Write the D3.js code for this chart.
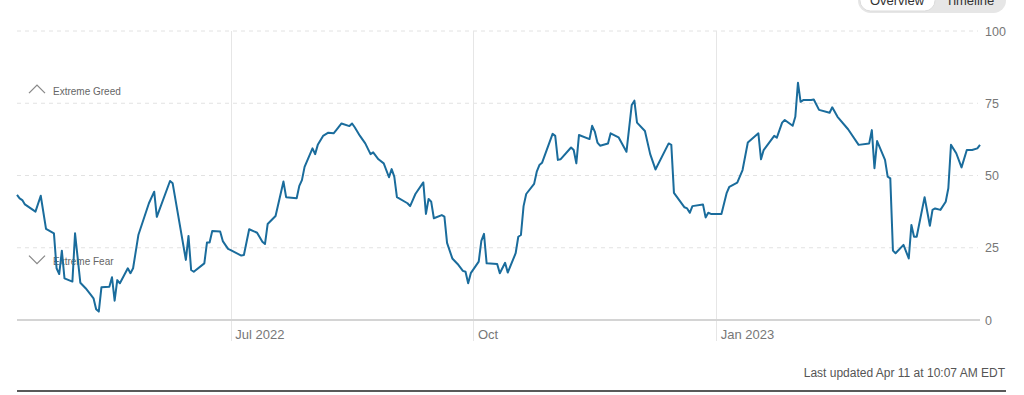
<!DOCTYPE html>
<html lang="en">
<head>
    <meta charset="UTF-8">
    <title>Fear &amp; Greed Index Timeline</title>
    <script src="https://d3js.org/d3.v7.min.js"></script>
    <style>
        body {
            margin: 0;
            background: #fff;
            font-family: "Liberation Sans", Arial, sans-serif;
        }
        .grid-h {
            stroke: #e2e2e2;
            stroke-dasharray: 4,4;
        }
        .grid-v {
            stroke: #e6e6e6;
        }
        .tick-label {
            font-size: 13px;
            fill: #777;
        }
        .zone-label {
            font-size: 10px;
            fill: #666;
        }
    </style>
</head>
<body>
    <div id="chart"></div>
    <script>
        // Fear & Greed index, one year
        const dates = [
            "2022-04-11","2022-04-12","2022-04-13","2022-04-14","2022-04-18","2022-04-20","2022-04-22","2022-04-25","2022-04-26","2022-04-27",
            "2022-04-28","2022-04-29","2022-05-02","2022-05-03","2022-05-05","2022-05-07","2022-05-09","2022-05-10","2022-05-11","2022-05-12",
            "2022-05-13","2022-05-16","2022-05-17","2022-05-18","2022-05-19","2022-05-20","2022-05-23","2022-05-24","2022-05-25","2022-05-27",
            "2022-05-31","2022-06-02","2022-06-03","2022-06-08","2022-06-09","2022-06-14","2022-06-15","2022-06-16","2022-06-17","2022-06-21",
            "2022-06-22","2022-06-23","2022-06-24","2022-06-27","2022-06-28","2022-06-30","2022-07-01","2022-07-05","2022-07-06","2022-07-08",
            "2022-07-11","2022-07-13","2022-07-14","2022-07-15","2022-07-18","2022-07-21","2022-07-22","2022-07-26","2022-07-27","2022-07-28",
            "2022-07-29","2022-08-01","2022-08-02","2022-08-03","2022-08-05","2022-08-07","2022-08-09","2022-08-10","2022-08-12","2022-08-15",
            "2022-08-16","2022-08-17","2022-08-19","2022-08-21","2022-08-23","2022-08-24","2022-08-26","2022-08-28","2022-08-30","2022-08-31",
            "2022-09-01","2022-09-02","2022-09-06","2022-09-07","2022-09-08","2022-09-09","2022-09-12","2022-09-13","2022-09-14","2022-09-15",
            "2022-09-16","2022-09-19","2022-09-20","2022-09-21","2022-09-23","2022-09-25","2022-09-27","2022-09-28","2022-09-29","2022-09-30",
            "2022-10-03","2022-10-04","2022-10-05","2022-10-06","2022-10-10","2022-10-11","2022-10-13","2022-10-14","2022-10-17","2022-10-18",
            "2022-10-19","2022-10-20","2022-10-21","2022-10-24","2022-10-25","2022-10-26","2022-10-27","2022-10-31","2022-11-01","2022-11-02",
            "2022-11-03","2022-11-07","2022-11-08","2022-11-09","2022-11-10","2022-11-14","2022-11-15","2022-11-16","2022-11-17","2022-11-18",
            "2022-11-21","2022-11-22","2022-11-25","2022-11-28","2022-11-30","2022-12-01","2022-12-02","2022-12-05","2022-12-07","2022-12-09",
            "2022-12-14","2022-12-15","2022-12-16","2022-12-20","2022-12-21","2022-12-22","2022-12-23","2022-12-27","2022-12-28","2022-12-29",
            "2022-12-30","2023-01-03","2023-01-05","2023-01-06","2023-01-09","2023-01-11","2023-01-13","2023-01-17","2023-01-18","2023-01-19",
            "2023-01-23","2023-01-24","2023-01-26","2023-01-27","2023-01-30","2023-01-31","2023-02-01","2023-02-02","2023-02-03","2023-02-06",
            "2023-02-07","2023-02-09","2023-02-13","2023-02-14","2023-02-16","2023-02-20","2023-02-24","2023-02-28","2023-03-01","2023-03-02",
            "2023-03-03","2023-03-06","2023-03-07","2023-03-08","2023-03-09","2023-03-10","2023-03-13","2023-03-15","2023-03-16","2023-03-17",
            "2023-03-18","2023-03-21","2023-03-23","2023-03-24","2023-03-25","2023-03-27","2023-03-29","2023-03-30","2023-03-31","2023-04-02",
            "2023-04-04","2023-04-06","2023-04-08","2023-04-10","2023-04-11"
        ];
        const values = [
            43.3,42.1,41.5,40,37.5,43,31.5,30,17.9,15.9,
            24,14.4,13.3,30,12.9,11,8.7,7.5,3.7,2.9,
            11.3,11.5,14.8,6.7,13.8,12.7,17.9,16.2,17.9,29.4,
            40.4,44.4,35.7,48.1,47.3,20.8,29.1,17.3,16.7,19.6,
            26.8,26.8,30.8,30.6,27.3,24.6,24.2,22.3,22.5,31.4,
            30.2,27.1,26.3,33.2,36,47.9,42.5,42.1,46.4,48.4,
            53,59.4,57.4,60.6,63.7,64.8,64.6,65.7,68,67.1,
            68,66.7,63.7,61.1,57.4,58,55.6,54.2,49.4,52.2,
            49.6,42.5,40.4,39.4,41.5,43.6,47.6,36.7,41.9,40.9,
            35.2,36.3,35.8,26.7,21.3,19.4,17,16.7,12.7,16.2,
            20.2,27.4,29.8,19.6,19.4,16.2,19.8,16.4,23.1,28.8,
            29.4,39.4,43.6,47.1,51.3,53.6,54.4,64.4,63.7,55.4,
            55.6,59.7,58.8,54.2,64,62.6,67.2,65.2,61.4,60.3,
            61.1,64.6,63.2,58.2,74.4,75.9,68.3,65.4,57.4,52.1,
            61.1,60.6,44,39,38.6,37.1,39.4,40,35.5,37.1,
            36.7,36.7,44,46.1,47.5,51.9,61.4,64.6,55.6,58.8,
            63.7,63.1,68.3,69.2,67.2,70.3,82.1,75.5,76.1,76.1,
            76.3,72.7,71.7,73.6,70.3,66,60.6,61.1,65.7,52.5,
            61.9,55.4,49.6,49,24,23.1,26,21.3,32.9,28.8,
            28.8,42.5,32.6,38.1,38.6,38.1,40.9,45.6,60.6,57.7,
            52.8,58.8,58.8,59.4,60.6
        ];
        const yTicks = [0, 25, 50, 75, 100];
        const monthTicks = ["2022-07-01", "2022-10-01", "2023-01-01"];
        const monthLabels = ["Jul 2022", "Oct", "Jan 2023"];
        const zones = [{ label: "Extreme Greed", value: 79.2, dir: "up" }, { label: "Extreme Fear", value: 20.2, dir: "down" }];

        const width = 1024, height = 395;
        const parse = d3.timeParse("%Y-%m-%d");
        const data = dates.map((d, i) => ({ date: parse(d), value: values[i] }));

        const x = d3.scaleTime()
            .domain([parse("2022-04-11"), parse("2023-04-11")])
            .range([17, 980]);
        const y = d3.scaleLinear()
            .domain([0, 100])
            .range([320, 31]);

        const svg = d3.select("#chart")
            .append("svg")
            .attr("width", width)
            .attr("height", height);

        // horizontal dashed grid
        svg.append("g")
            .selectAll("line")
            .data(yTicks.filter(t => t > 0))
            .enter().append("line")
            .attr("class", "grid-h")
            .attr("x1", 17).attr("x2", 978)
            .attr("y1", d => y(d)).attr("y2", d => y(d));

        // vertical month lines
        svg.append("g")
            .selectAll("line")
            .data(monthTicks)
            .enter().append("line")
            .attr("class", "grid-v")
            .attr("x1", d => Math.round(x(parse(d))) + 0.5)
            .attr("x2", d => Math.round(x(parse(d))) + 0.5)
            .attr("y1", y(100)).attr("y2", 341);

        // baseline
        svg.append("line")
            .attr("x1", 17).attr("x2", 980)
            .attr("y1", y(0)).attr("y2", y(0))
            .attr("stroke", "#d4d4d4")
            .attr("stroke-width", 2);

        // month labels via axis
        const xAxis = svg.append("g")
            .attr("transform", `translate(0,${y(0)})`)
            .call(d3.axisBottom(x)
                .tickValues(monthTicks.map(parse))
                .tickSize(0)
                .tickFormat((d, i) => monthLabels[i]));
        xAxis.select(".domain").remove();
        xAxis.selectAll("text")
            .attr("class", "tick-label")
            .attr("text-anchor", "start")
            .attr("x", 4)
            .attr("y", 10)
            .attr("dy", "0.71em")
            .style("font-family", "Liberation Sans, Arial, sans-serif");

        // value labels on right
        const yAxis = svg.append("g")
            .attr("transform", "translate(985,0)")
            .call(d3.axisRight(y).tickValues(yTicks).tickSize(0).tickPadding(0));
        yAxis.select(".domain").remove();
        yAxis.selectAll("text")
            .attr("class", "tick-label")
            .style("font-size", "12.5px")
            .style("font-family", "Liberation Sans, Arial, sans-serif");

        // zone labels
        zones.forEach(z => {
            const cy = y(z.value);
            const cc = cy - 2;
            const pts = z.dir === "up"
                ? [[29, cc + 4], [37, cc - 4], [45, cc + 4]]
                : [[29, cc - 4], [37, cc + 4], [45, cc - 4]];
            svg.append("path")
                .attr("d", d3.line()(pts))
                .attr("fill", "none")
                .attr("stroke", "#888")
                .attr("stroke-width", 1.3);
            svg.append("text")
                .attr("class", "zone-label")
                .attr("x", 53)
                .attr("y", cy + 3.5)
                .text(z.label);
        });

        // index line
        const line = d3.line()
            .x(d => x(d.date))
            .y(d => y(d.value));
        svg.append("path")
            .datum(data)
            .attr("fill", "none")
            .attr("stroke", "#1a6c9c")
            .attr("stroke-width", 2)
            .attr("stroke-linejoin", "round")
            .attr("d", line);

        // Overview / Timeline toggle (cut by top edge, as in the source)
        svg.append("rect")
            .attr("x", 858).attr("y", -12)
            .attr("width", 148).attr("height", 25)
            .attr("rx", 12.5)
            .attr("fill", "#e6e6e6");
        svg.append("rect")
            .attr("x", 860).attr("y", -10)
            .attr("width", 75).attr("height", 21)
            .attr("rx", 10.5)
            .attr("fill", "#fff")
            .attr("stroke", "#dcdcdc");
        svg.append("text")
            .attr("x", 897).attr("y", 5)
            .attr("text-anchor", "middle")
            .attr("font-size", 13)
            .attr("fill", "#333")
            .text("Overview");
        svg.append("text")
            .attr("x", 970).attr("y", 5)
            .attr("text-anchor", "middle")
            .attr("font-size", 13)
            .attr("fill", "#333")
            .text("Timeline");

        // footer
        svg.append("text")
            .attr("x", 1005).attr("y", 377)
            .attr("text-anchor", "end")
            .attr("font-size", 12)
            .attr("fill", "#555")
            .text("Last updated Apr 11 at 10:07 AM EDT");
        svg.append("line")
            .attr("x1", 17).attr("x2", 1006)
            .attr("y1", 391).attr("y2", 391)
            .attr("stroke", "#222")
            .attr("stroke-width", 1.5);
    </script>
</body>
</html>
